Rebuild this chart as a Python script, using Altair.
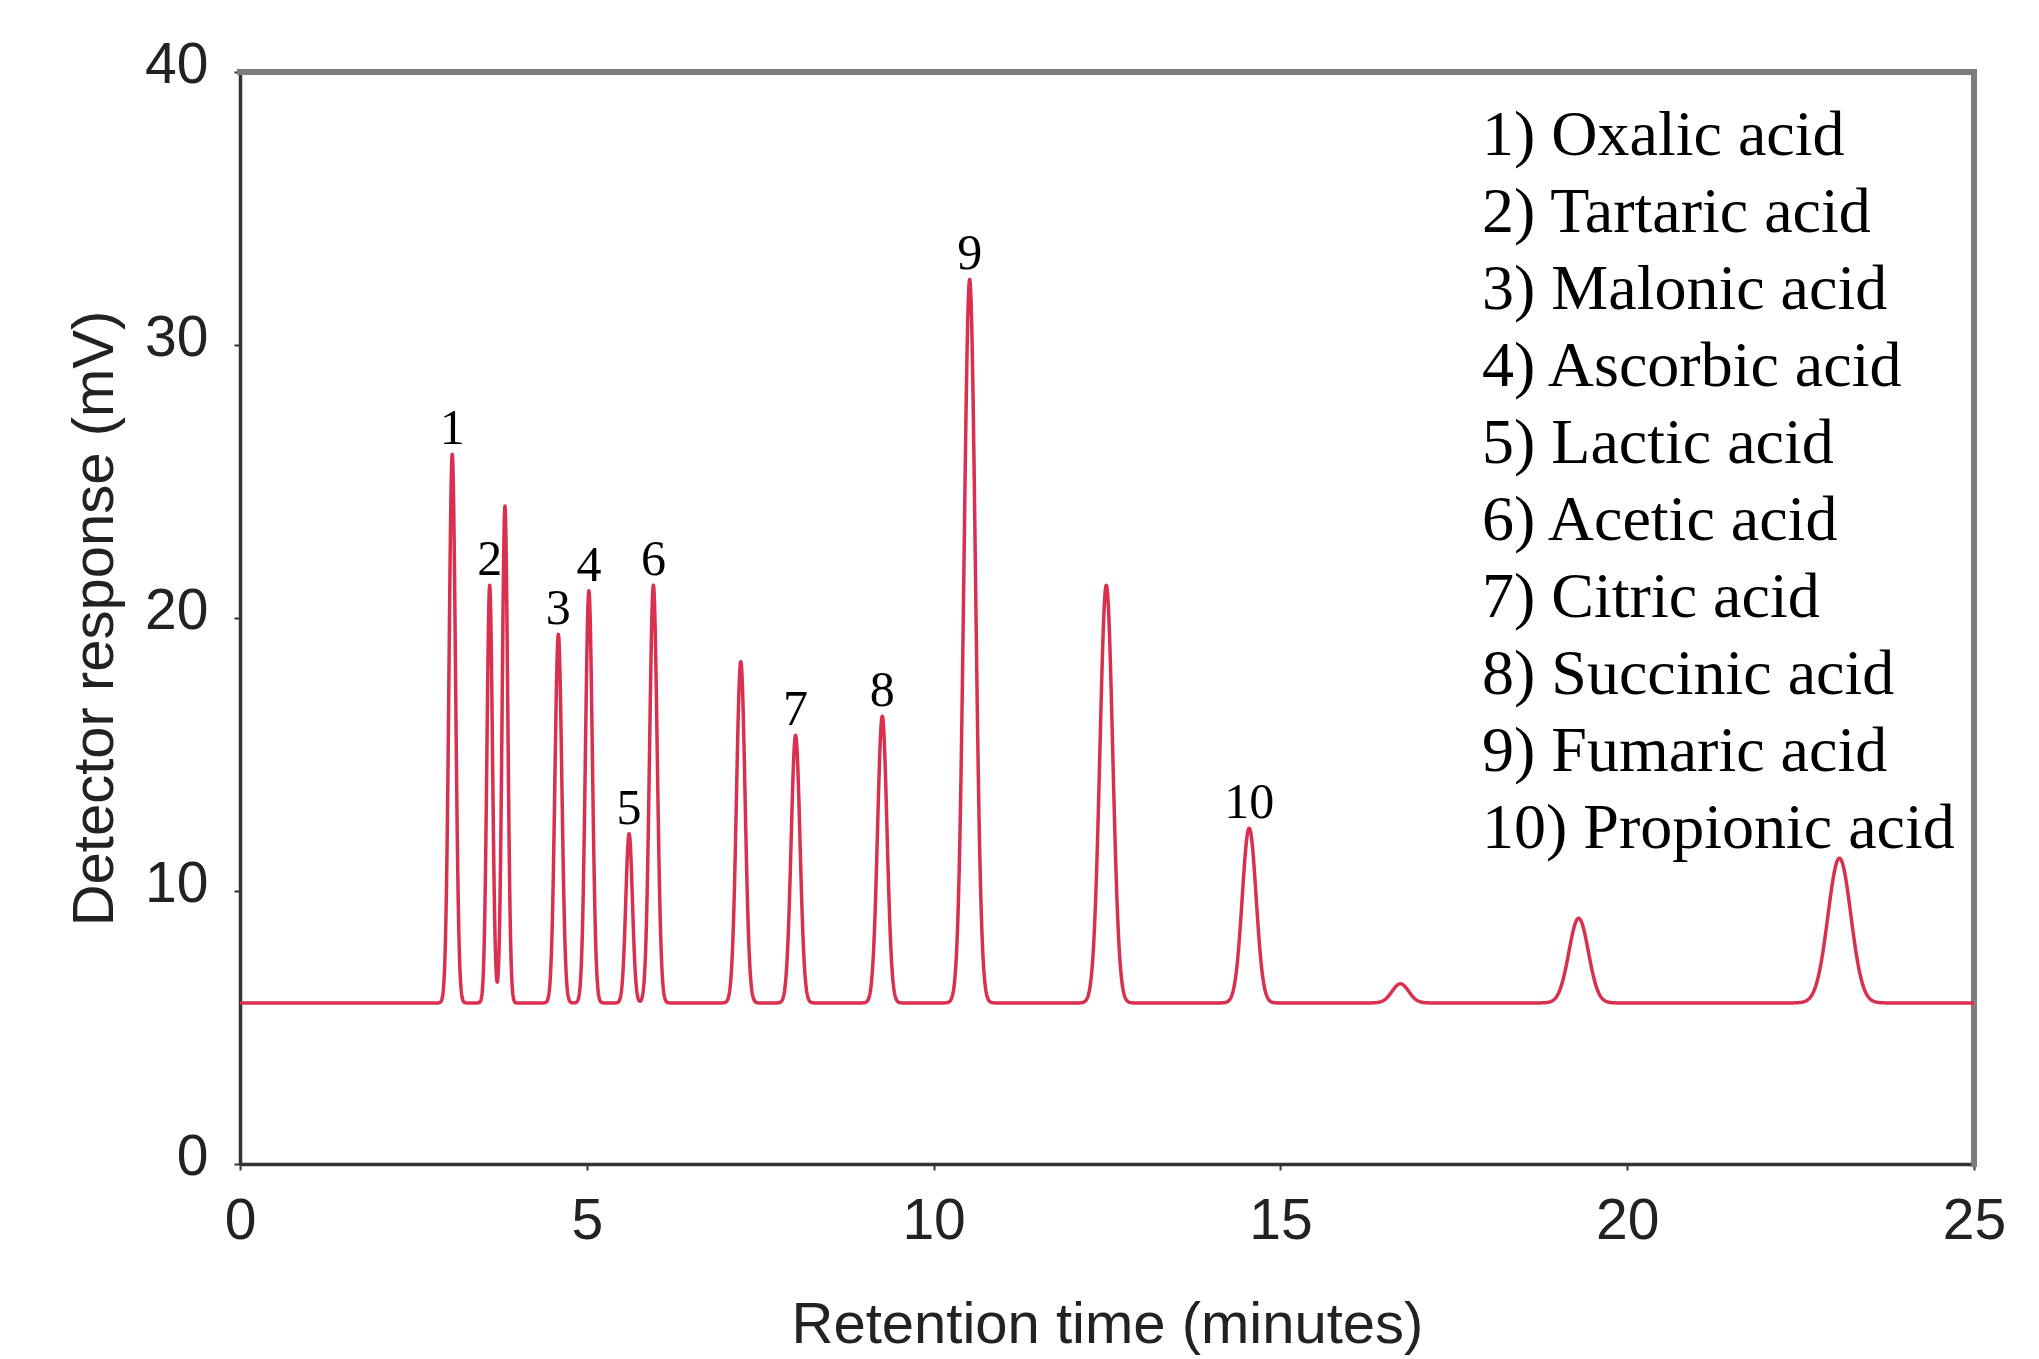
import altair as alt
import numpy as np
import pandas as pd

# ---- data ----
peak_time = [3.06, 3.60, 3.82, 4.59, 5.03, 5.61, 5.96, 7.22, 8.01, 9.26, 10.52, 12.49, 14.55, 16.73, 19.30, 23.06]
peak_apex = [26.0, 21.2, 24.1, 19.4, 21.0, 12.1, 21.2, 18.4, 15.7, 16.4, 32.4, 21.2, 12.3, 6.6, 9.0, 11.2]
peak_sigma = [0.047, 0.04, 0.04, 0.05, 0.05, 0.048, 0.055, 0.062, 0.064, 0.068, 0.082, 0.092, 0.10, 0.12, 0.14, 0.165]
peak_label = ["1", "2", "", "3", "4", "5", "6", "", "7", "8", "9", "", "10", "", "", ""]
baseline_mv = 5.9

compounds = ["Oxalic acid", "Tartaric acid", "Malonic acid", "Ascorbic acid", "Lactic acid",
             "Acetic acid", "Citric acid", "Succinic acid", "Fumaric acid", "Propionic acid"]
x_ticks = [0, 5, 10, 15, 20, 25]
y_ticks = [0, 10, 20, 30, 40]

# ---- trace built from the peak table (Gaussian peak model on the baseline) ----
t = np.round(np.arange(0, 25.0001, 0.005), 4)
signal = np.full_like(t, baseline_mv)
for c, a, s in zip(peak_time, peak_apex, peak_sigma):
    signal += (a - baseline_mv) * np.exp(-0.5 * ((t - c) / s) ** 2)
trace = pd.DataFrame({"time": t, "response": signal})

peaks = pd.DataFrame({"time": peak_time, "apex": peak_apex, "label": peak_label})
peaks = peaks[peaks["label"] != ""]

legend_df = pd.DataFrame({"text": ["\n".join(f"{i + 1}) {n}" for i, n in enumerate(compounds))]})

SANS = "Liberation Sans, Arial, Helvetica, sans-serif"
SERIF = "Liberation Serif, Times New Roman, serif"

x_scale = alt.Scale(domain=[x_ticks[0], x_ticks[-1]], nice=False, zero=False)
y_scale = alt.Scale(domain=[y_ticks[0], y_ticks[-1]], nice=False)

line = alt.Chart(trace).mark_line(color="#d9304f", strokeWidth=3.5, strokeJoin="round").encode(
    x=alt.X("time:Q", scale=x_scale,
            axis=alt.Axis(values=x_ticks, format="d", title="Retention time (minutes)", grid=False,
                          domainColor="#333333", domainWidth=3.5, tickColor="#333333", tickSize=6, tickWidth=2,
                          labelFont=SANS, labelFontSize=57, labelColor="#222222", labelPadding=23,
                          labelFlush=False,
                          titleFont=SANS, titleFontSize=58, titleFontWeight="normal", titleColor="#222222",
                          titlePadding=47)),
    y=alt.Y("response:Q", scale=y_scale,
            axis=alt.Axis(values=y_ticks, format="d", title="Detector response (mV)", grid=False,
                          domainColor="#333333", domainWidth=3.5, tickColor="#333333", tickSize=6, tickWidth=2,
                          labelFont=SANS, labelFontSize=57, labelColor="#222222", labelPadding=26,
                          labelFlush=False, labelOffset=-7,
                          titleFont=SANS, titleFontSize=58, titleFontWeight="normal", titleColor="#222222",
                          titlePadding=20)),
)

frame_src = pd.DataFrame({"k": [0]})
top_edge = alt.Chart(frame_src).mark_rule(color="#7d7d7d", strokeWidth=6, strokeCap="square").encode(
    y=alt.datum(y_ticks[-1], scale=y_scale))
right_edge = alt.Chart(frame_src).mark_rule(color="#7d7d7d", strokeWidth=6, strokeCap="square").encode(
    x=alt.datum(x_ticks[-1], scale=x_scale))

labels = alt.Chart(peaks).mark_text(font=SERIF, fontSize=50, baseline="alphabetic", align="center",
                                    dy=-10, color="black").encode(
    x=alt.X("time:Q", scale=x_scale),
    y=alt.Y("apex:Q", scale=y_scale),
    text="label:N",
)

legend = alt.Chart(legend_df).mark_text(font=SERIF, fontSize=64, align="left", baseline="alphabetic",
                                        lineBreak="\n", lineHeight=77, color="black").encode(
    x=alt.value(1242),
    y=alt.value(83),
    text="text:N",
)

chart = alt.layer(top_edge, right_edge, line, labels, legend).properties(
    width=1734, height=1092,
    autosize=alt.AutoSizeParams(type="none"),
    padding={"left": 232, "top": 64, "right": 57, "bottom": 192},
).configure_view(stroke=None).configure(background="white")

chart.save("out.html", embed_options={"renderer": "svg", "actions": False})
